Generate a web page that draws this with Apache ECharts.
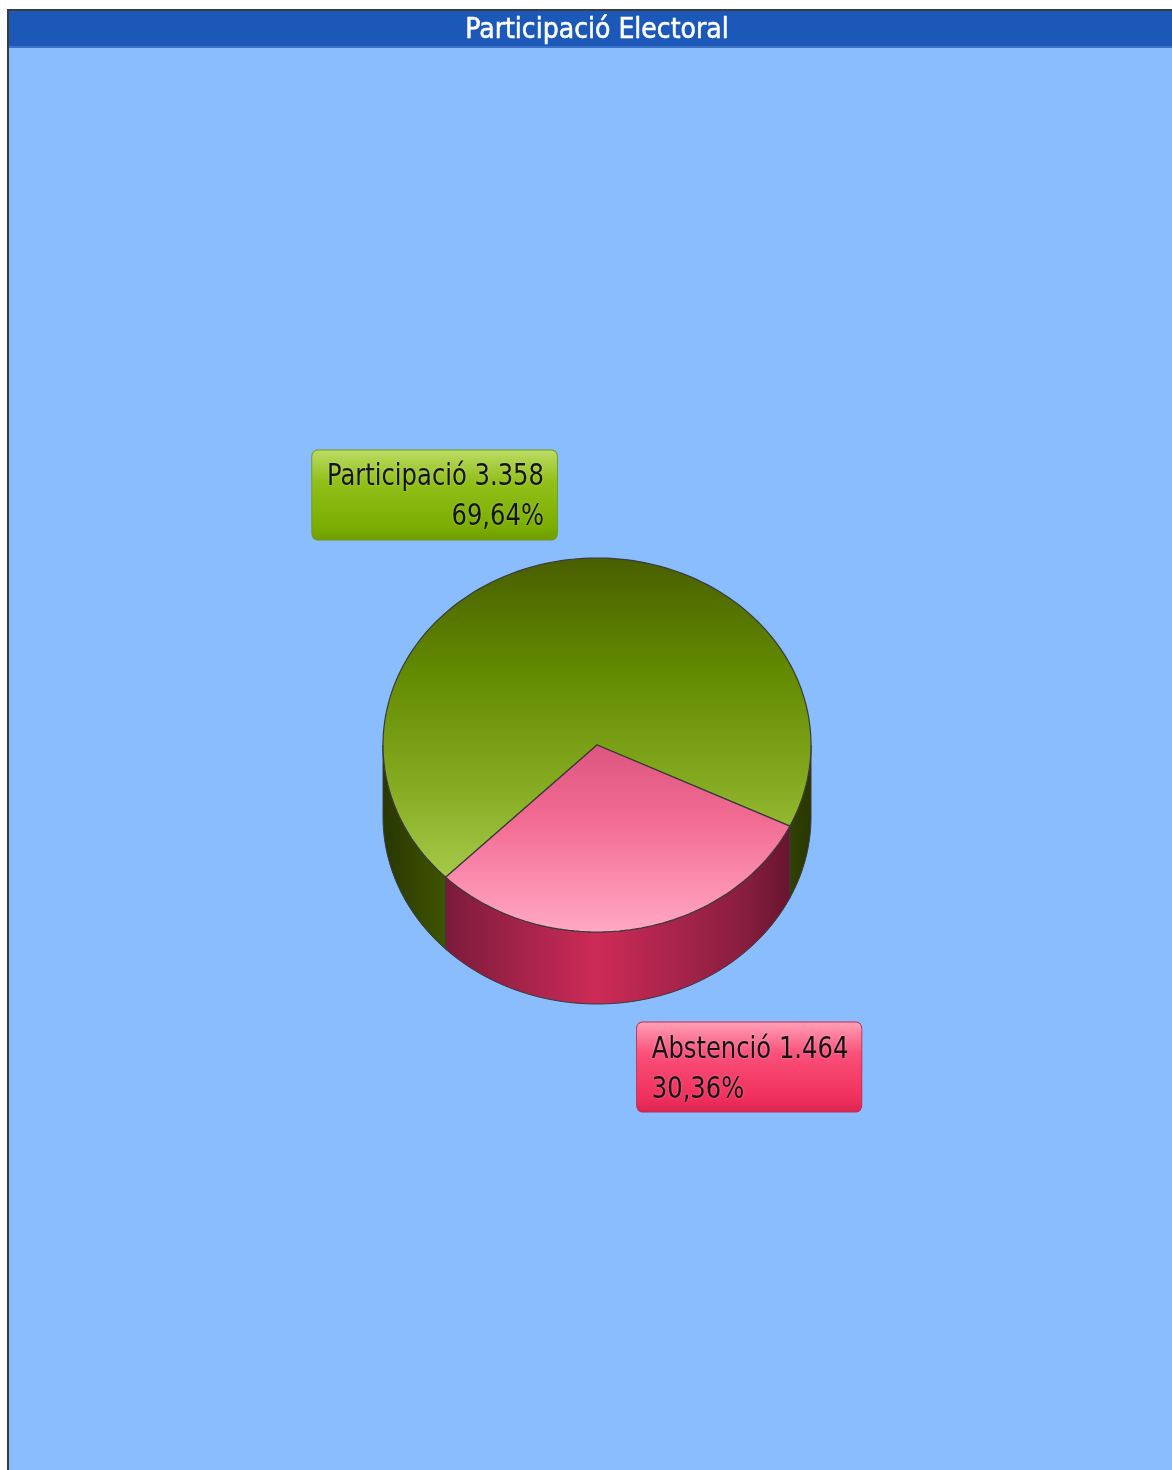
<!DOCTYPE html>
<html>
<head>
<meta charset="utf-8">
<title>Participació Electoral</title>
<script src="https://cdn.jsdelivr.net/npm/echarts@6/dist/echarts.min.js"></script>
<style>
  html, body { margin: 0; padding: 0; background: #fff; overflow: hidden; }
  #chart {
    position: absolute; left: 7px; top: 9px;
    width: 1176px; height: 1470px;
    border-left: 2px solid #3c3c3c; border-top: 2px solid #3c3c3c;
  }
</style>
</head>
<body>
<div id="chart"></div>
<script>
  // dades
  var categories = ['Participació', 'Abstenció'];
  var values = [3358, 1464];

  var FONT = '"DejaVu Sans Condensed", "Liberation Sans Narrow", sans-serif';

  // geometria del pastis 3D
  var CX = 588, CY = 734, RX = 214, RY = 187, DEPTH = 72, START = 135;
  var LABEL_SCALE = 0.87; // el text original es mes estret

  var total = values.reduce(function (a, b) { return a + b; }, 0);

  function fmtNum (v) {
    return String(v).replace(/\B(?=(\d{3})+(?!\d))/g, '.');
  }
  function fmtPct (v) {
    return (v / total * 100).toFixed(2).replace('.', ',');
  }

  function pt (a, dy) {
    var r = a * Math.PI / 180;
    return [CX + RX * Math.cos(r), CY + RY * Math.sin(r) + dy];
  }
  function arc (a0, a1, dy) {
    var n = Math.max(2, Math.ceil(Math.abs(a1 - a0) / 1.5));
    var pts = [];
    for (var i = 0; i <= n; i++) {
      pts.push(pt(a0 + (a1 - a0) * i / n, dy));
    }
    return pts;
  }

  // colors per llesca
  var topColors = [
    [[0, '#495f00'], [0.3, '#628a00'], [0.6, '#84aa20'], [0.85, '#a4c948'], [1, '#b6d966']],
    [[0, '#c84a70'], [0.5, '#dc5680'], [0.7, '#f26b93'], [0.85, '#fa8aac'], [1, '#ffa8c4']]
  ];
  var sideColors = [
    [[0, '#293700'], [0.15, '#3f5500'], [0.5, '#4c6600'], [0.85, '#3f5500'], [1, '#293700']],
    [[0, '#5a1028'], [0.15, '#7c1b3c'], [0.5, '#cd2b57'], [0.85, '#861d3f'], [1, '#5a1028']]
  ];
  var boxColors = [
    [[0, '#bcdc66'], [0.35, '#92c01a'], [0.85, '#7bae00'], [1, '#6e9c00']],
    [[0, '#ffa2b8'], [0.35, '#fa5079'], [0.85, '#ef2f5d'], [1, '#d9244f']]
  ];
  var boxBorder = ['#6f9a10', '#c42a50'];

  // angles acumulats a partir de les dades
  var angles = [];
  var acc = 0;
  values.forEach(function (v) {
    var a0 = START + acc / total * 360;
    acc += v;
    angles.push([a0, START + acc / total * 360]);
  });

  function renderItem (params, api) {
    var i = params.dataIndex;
    var a0 = angles[i][0], a1 = angles[i][1];
    var children = [];

    var sideFill = new echarts.graphic.LinearGradient(CX - RX, 0, CX + RX, 0,
      sideColors[i].map(function (s) { return { offset: s[0], color: s[1] }; }), true);
    // parets frontals (angles 0-180 i 360-540)
    [0, 360].forEach(function (k) {
      var s = Math.max(a0, k), e = Math.min(a1, k + 180);
      if (e > s) {
        var pts = arc(s, e, 0).concat(arc(e, s, DEPTH));
        children.push({
          type: 'polygon', z2: 1,
          shape: { points: pts },
          style: { fill: sideFill, stroke: '#3a3a3a', lineWidth: 1 }
        });
      }
    });

    // cara superior
    var topFill = new echarts.graphic.LinearGradient(0, CY - RY, 0, CY + RY,
      topColors[i].map(function (s) { return { offset: s[0], color: s[1] }; }), true);
    children.push({
      type: 'polygon', z2: 2,
      shape: { points: [[CX, CY]].concat(arc(a0, a1, 0)) },
      style: { fill: topFill, stroke: '#3a3a3a', lineWidth: 1.2 }
    });

    // etiqueta
    var mid = (a0 + a1) / 2 * Math.PI / 180;
    var c = Math.cos(mid), s = Math.sin(mid);
    var k = 1.115;
    var lx = CX + RX * k * c;
    var ly = CY + RY * k * s + (s > 0 ? DEPTH : 0);
    children.push({
      type: 'text', z2: 10,
      scaleX: LABEL_SCALE,
      originX: lx,
      originY: ly,
      style: {
        x: lx, y: ly,
        text: categories[i] + ' ' + fmtNum(values[i]) + '\n' + fmtPct(values[i]) + '%',
        align: c < 0 ? 'right' : 'left',
        verticalAlign: s < 0 ? 'bottom' : 'top',
        fill: '#141414',
        font: '31px ' + FONT,
        lineHeight: 40,
        textShadowColor: 'rgba(255,255,255,0.35)',
        textShadowBlur: 2,
        backgroundColor: new echarts.graphic.LinearGradient(0, 0, 0, 1,
          boxColors[i].map(function (s) { return { offset: s[0], color: s[1] }; })),
        borderColor: boxBorder[i],
        borderWidth: 1,
        borderRadius: 6,
        padding: [7, 15, 2, 17]
      }
    });

    return { type: 'group', children: children };
  }

  var chart = echarts.init(document.getElementById('chart'));
  chart.setOption({
    backgroundColor: '#8abdfd',
    animation: false,
    title: {
      text: 'Participació Electoral',
      left: 'center',
      top: 2,
      padding: 0,
      textStyle: {
        color: '#ffffff',
        fontSize: 28,
        fontWeight: 'normal',
        fontFamily: FONT,
        lineHeight: 36,
        textBorderColor: '#ffffff',
        textBorderWidth: 0.5
      }
    },
    graphic: [
      { type: 'rect', z: 0, shape: { x: 0, y: 0, width: 1200, height: 37 }, style: { fill: '#1c58b8' } },
      { type: 'rect', z: 0, shape: { x: 0, y: 35, width: 1200, height: 2 }, style: { fill: '#3b72c8' } }
    ],
    series: [{
      type: 'custom',
      coordinateSystem: 'none',
      renderItem: renderItem,
      data: values
    }]
  });
</script>
</body>
</html>
